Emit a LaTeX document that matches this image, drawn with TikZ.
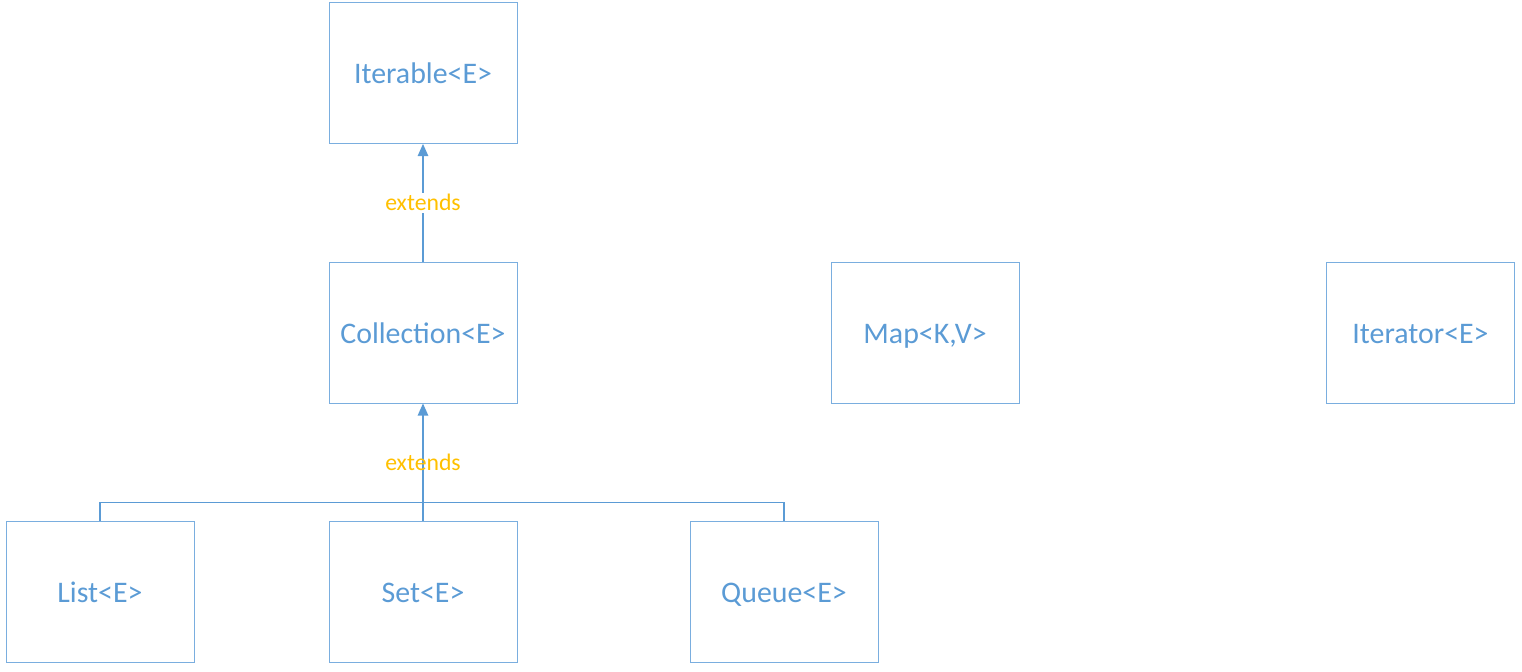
\documentclass[tikz,border=0pt]{standalone}
\usepackage{fontspec}
\setmainfont{Carlito}
\usetikzlibrary{arrows.meta}
\definecolor{umlblue}{HTML}{5B9BD5}
\definecolor{umlline}{HTML}{7AAEDF}
\definecolor{umlgold}{HTML}{FFC000}
\tikzstyle{iface}=[draw=umlline,line width=0.5pt,minimum width=3.76cm,minimum height=2.82cm,inner sep=0pt,text height=1.3em,text depth=0.1em,text=umlblue,font=\fontsize{17}{20}\selectfont]
\tikzstyle{extends edge} = [draw,line width=0.9pt,umlblue,-{Triangle[length=7pt,width=6pt]}]
\tikzstyle{tree edge} = [draw,line width=0.9pt,umlblue]
\tikzstyle{extlabel}=[text=umlgold,font=\fontsize{13.5}{15}\selectfont,inner sep=1pt]

\begin{document}
\begin{tikzpicture}[x=0.02cm,y=-0.02cm]
			\useasboundingbox (0,0) rectangle (1522,672);
			\node[iface] (iterable) at (423,73) {Iterable<E>};
			\node[iface] (collection) at (423,332.5) {Collection<E>};
			\node[iface] (map) at (925,332.5) {Map<K,V>};
			\node[iface] (iterator) at (1420.5,332.5) {Iterator<E>};
			\node[iface] (list) at (100,591.5) {List<E>};
			\node[iface] (set) at (423,591.5) {Set<E>};
			\node[iface] (queue) at (784,591.5) {Queue<E>};
	    		% Subinterfaces share one bus
			\path[tree edge] (list.north) -- ++(0,-18) -| (queue.north);
	   		 % Inheritance arrows
			\path[extends edge] (collection) to node[extlabel,fill=white] {extends} (iterable);
			\path[extends edge] (set) to node[extlabel] {extends} (collection);
		\end{tikzpicture}
\end{document}
